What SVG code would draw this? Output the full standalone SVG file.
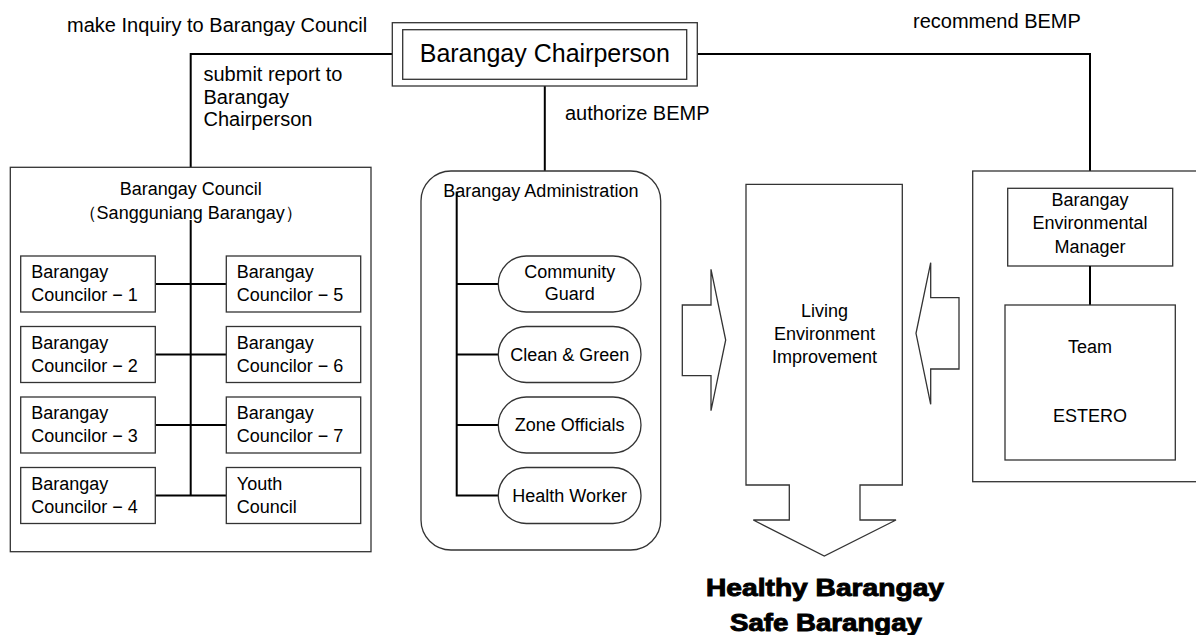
<svg xmlns="http://www.w3.org/2000/svg" width="1196" height="635" viewBox="0 0 1196 635">
<style>
text{font-family:"Liberation Sans",Arial,sans-serif;fill:#000}
.lbl{font-size:20px}
.bx{font-size:18px}
.c{text-anchor:middle}
.box{fill:#fff;stroke:#333;stroke-width:1.3}
.conn{fill:none;stroke:#000;stroke-width:2}
.big{font-size:23px;font-weight:bold;stroke:#000;stroke-width:0.9;text-anchor:middle}
</style>
<rect width="1196" height="635" fill="#fff"/>

<g id="connectors">
<polyline class="conn" points="392.3,54 190.7,54 190.7,167.3"/>
<polyline class="conn" points="697.3,54 1090,54 1090,171"/>
<line class="conn" x1="544.8" y1="86" x2="544.8" y2="171"/>
</g>

<g id="labels">
<text class="lbl" x="67" y="31.5">make Inquiry to Barangay Council</text>
<text class="lbl" x="913" y="28">recommend BEMP</text>
<text class="lbl" x="203.5" y="81">submit report to</text>
<text class="lbl" x="203.5" y="103.5">Barangay</text>
<text class="lbl" x="203.5" y="126">Chairperson</text>
<text class="lbl" x="565" y="120">authorize BEMP</text>
</g>

<g id="chairperson">
<rect class="box" x="392.3" y="22.7" width="305" height="63.3"/>
<rect class="box" x="402.7" y="29.7" width="284" height="49.6"/>
<text class="c" x="544.8" y="62" font-size="25">Barangay Chairperson</text>
</g>

<g id="council">
<rect class="box" x="10.3" y="167.3" width="360.7" height="384.4"/>
<text class="bx c" x="190.7" y="195">Barangay Council</text>
<text class="bx c" x="190.7" y="219">（Sangguniang Barangay）</text>
<g id="council-lines">
<line class="conn" x1="190.7" y1="220" x2="190.7" y2="495.5"/>
<line class="conn" x1="155.3" y1="284" x2="226.3" y2="284"/>
<line class="conn" x1="155.3" y1="354.5" x2="226.3" y2="354.5"/>
<line class="conn" x1="155.3" y1="425" x2="226.3" y2="425"/>
<line class="conn" x1="155.3" y1="495.5" x2="226.3" y2="495.5"/>
</g>
<g id="councilor1"><rect class="box" x="20.7" y="256" width="134.6" height="56"/><text class="bx" x="31.2" y="278.3">Barangay</text><text class="bx" x="31.2" y="301">Councilor − 1</text></g>
<g id="councilor2"><rect class="box" x="20.7" y="326.5" width="134.6" height="56"/><text class="bx" x="31.2" y="348.8">Barangay</text><text class="bx" x="31.2" y="371.5">Councilor − 2</text></g>
<g id="councilor3"><rect class="box" x="20.7" y="397" width="134.6" height="56"/><text class="bx" x="31.2" y="419.3">Barangay</text><text class="bx" x="31.2" y="442">Councilor − 3</text></g>
<g id="councilor4"><rect class="box" x="20.7" y="467.5" width="134.6" height="56"/><text class="bx" x="31.2" y="489.8">Barangay</text><text class="bx" x="31.2" y="512.5">Councilor − 4</text></g>
<g id="councilor5"><rect class="box" x="226.3" y="256" width="134.4" height="56"/><text class="bx" x="236.8" y="278.3">Barangay</text><text class="bx" x="236.8" y="301">Councilor − 5</text></g>
<g id="councilor6"><rect class="box" x="226.3" y="326.5" width="134.4" height="56"/><text class="bx" x="236.8" y="348.8">Barangay</text><text class="bx" x="236.8" y="371.5">Councilor − 6</text></g>
<g id="councilor7"><rect class="box" x="226.3" y="397" width="134.4" height="56"/><text class="bx" x="236.8" y="419.3">Barangay</text><text class="bx" x="236.8" y="442">Councilor − 7</text></g>
<g id="youth"><rect class="box" x="226.3" y="467.5" width="134.4" height="56"/><text class="bx" x="236.8" y="489.8">Youth</text><text class="bx" x="236.8" y="512.5">Council</text></g>
</g>

<g id="administration">
<rect class="box" x="421" y="171" width="239.7" height="379" rx="30" ry="30"/>
<text class="bx" x="443.3" y="197.3">Barangay Administration</text>
<g id="admin-lines">
<polyline class="conn" points="456.7,191.5 456.7,495.5 498.3,495.5"/>
<line class="conn" x1="456.7" y1="284" x2="498.3" y2="284"/>
<line class="conn" x1="456.7" y1="354.5" x2="498.3" y2="354.5"/>
<line class="conn" x1="456.7" y1="425" x2="498.3" y2="425"/>
</g>
<g id="community-guard"><rect class="box" x="498.3" y="256" width="142.7" height="56" rx="28" ry="28"/><text class="bx c" x="569.7" y="278.3">Community</text><text class="bx c" x="569.7" y="300">Guard</text></g>
<g id="clean-green"><rect class="box" x="498.3" y="326.5" width="142.7" height="56" rx="28" ry="28"/><text class="bx c" x="569.7" y="360.5">Clean &amp; Green</text></g>
<g id="zone-officials"><rect class="box" x="498.3" y="397" width="142.7" height="56" rx="28" ry="28"/><text class="bx c" x="569.7" y="431">Zone Officials</text></g>
<g id="health-worker"><rect class="box" x="498.3" y="467.5" width="142.7" height="56" rx="28" ry="28"/><text class="bx c" x="569.7" y="501.5">Health Worker</text></g>
</g>

<g id="arrow-right">
<polygon class="box" points="682.3,305 711,305 711,269.3 725.7,340 711,410.7 711,375.7 682.3,375.7"/>
</g>

<g id="living-environment">
<polygon class="box" points="746,184.3 902.3,184.3 902.3,485 860,485 860,520 896,520 824.3,556 753.3,520 789.3,520 789.3,485 746,485"/>
<text class="bx c" x="824.5" y="316.7">Living</text>
<text class="bx c" x="824.5" y="340">Environment</text>
<text class="bx c" x="824.5" y="363.3">Improvement</text>
</g>

<g id="arrow-left">
<polygon class="box" points="959,297.7 930.7,297.7 930.7,262.7 916,333.3 930.7,404.3 930.7,369 959,369"/>
</g>

<g id="environment-group">
<rect class="box" x="972.7" y="171" width="240" height="310.7"/>
<g id="manager">
<rect class="box" x="1007.7" y="188.3" width="165" height="77.7"/>
<text class="bx c" x="1090" y="205.5">Barangay</text>
<text class="bx c" x="1090" y="229">Environmental</text>
<text class="bx c" x="1090" y="252.5">Manager</text>
</g>
<line class="conn" x1="1090" y1="266" x2="1090" y2="305"/>
<g id="team">
<rect class="box" x="1005" y="305" width="170.3" height="155"/>
<text class="bx c" x="1090" y="353.3">Team</text>
<text class="bx c" x="1090" y="421.7">ESTERO</text>
</g>
</g>

<g id="outcome">
<text class="big" x="825" y="595.7" textLength="238" lengthAdjust="spacingAndGlyphs">Healthy Barangay</text>
<text class="big" x="826" y="631" textLength="192" lengthAdjust="spacingAndGlyphs">Safe Barangay</text>
</g>
</svg>
